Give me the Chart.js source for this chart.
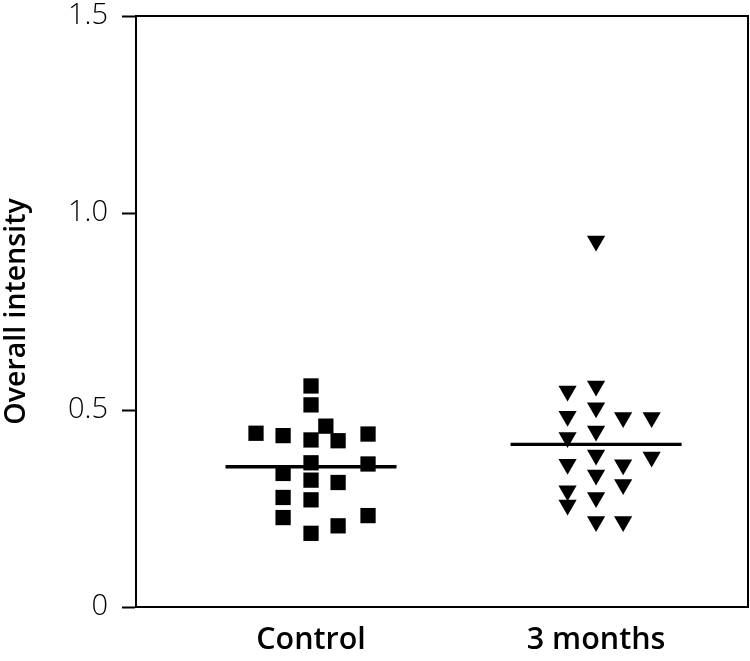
<!DOCTYPE html>
<html>
<head>
<meta charset="utf-8">
<script src="https://cdn.jsdelivr.net/npm/chart.js@4/dist/chart.umd.min.js"></script>
<style>
html,body{margin:0;padding:0;background:#fff;}
#wrap{width:750px;height:661px;position:relative;}
</style>
</head>
<body>
<div id="wrap"><canvas id="c" width="750" height="661"></canvas></div>
<script>
// ---- data ----
const categories = ['Control', '3 months'];
const yTicks = [0, 0.5, 1.0, 1.5];
const controlValues  = [0.561, 0.513, 0.424, 0.366, 0.322, 0.272, 0.187,
                        0.435, 0.339, 0.278, 0.227,
                        0.441,
                        0.459,
                        0.422, 0.316, 0.206,
                        0.439, 0.363, 0.232];
const controlJitter  = [0, 0, 0, 0, 0, 0, 0,
                        -0.098, -0.098, -0.098, -0.098,
                        -0.193,
                        0.052,
                        0.095, 0.095, 0.095,
                        0.2, 0.2, 0.2];
const monthsValues   = [0.929, 0.561, 0.506, 0.447, 0.386, 0.335, 0.278, 0.217,
                        0.548, 0.484, 0.430, 0.362, 0.295, 0.259,
                        0.481, 0.361, 0.311, 0.217,
                        0.481, 0.381];
const monthsJitter   = [0, 0, 0, 0, 0, 0, 0, 0,
                        -0.1, -0.1, -0.1, -0.1, -0.1, -0.1,
                        0.095, 0.095, 0.095, 0.095,
                        0.195, 0.195];
const means = [0.356, 0.413];
const meanHalfWidth = 0.3;

const pts = (vals, jit, g) => vals.map((v, i) => ({x: g + jit[i], y: v}));
const meanLine = (g) => [{x: g - meanHalfWidth, y: means[g - 1]}, {x: g + meanHalfWidth, y: means[g - 1]}];

const FONT = "'Open Sans', 'DejaVu Sans', sans-serif";

new Chart(document.getElementById('c'), {
  type: 'scatter',
  data: {
    datasets: [
      {label: categories[0], data: pts(controlValues, controlJitter, 1),
       pointStyle: 'rect', pointRadius: 10.8, backgroundColor: '#000', borderColor: '#000', borderWidth: 0},
      {label: categories[1], data: pts(monthsValues, monthsJitter, 2),
       pointStyle: 'triangle', rotation: 180, pointRadius: 10.5, backgroundColor: '#000', borderColor: '#000', borderWidth: 0},
      {type: 'line', data: meanLine(1), borderColor: '#000', borderWidth: 3.3, pointRadius: 0, fill: false},
      {type: 'line', data: meanLine(2), borderColor: '#000', borderWidth: 3.3, pointRadius: 0, fill: false}
    ]
  },
  options: {
    responsive: false,
    animation: false,
    layout: {autoPadding: false, padding: {top: 0, right: 2, left: 0, bottom: 0}},
    plugins: {legend: {display: false}, tooltip: {enabled: false}},
    scales: {
      x: {
        type: 'linear',
        min: 0.386, max: 2.533,
        afterBuildTicks: (s) => { s.ticks = [{value: 1}, {value: 2}]; },
        afterFit: (s) => { s.height = 54; s.paddingLeft = 0; s.paddingRight = 0; },
        ticks: {
          callback: (v) => categories[Math.round(v) - 1] || '',
          color: '#000',
          font: {family: FONT, size: 30.5, weight: '600'},
          padding: 15,
          maxRotation: 0, autoSkip: false
        },
        grid: {display: false, drawTicks: false},
        border: {display: true, color: '#000', width: 2}
      },
      x2: {
        type: 'linear',
        position: 'top',
        min: 0.386, max: 2.533,
        afterFit: (s) => { s.height = 0; s.paddingLeft = 0; s.paddingRight = 0; },
        ticks: {display: false},
        grid: {display: false},
        border: {display: true, color: '#000', width: 2}
      },
      y: {
        min: 0, max: 1.5,
        afterBuildTicks: (s) => { s.ticks = yTicks.map(v => ({value: v})); },
        afterFit: (s) => { s.width = 136; s.paddingTop = 16; s.paddingBottom = 0; },
        ticks: {
          callback: (v) => v === 0 ? '0' : v.toFixed(1),
          color: '#000',
          font: {family: FONT, size: 29, weight: '300'},
          padding: 14
        },
        grid: {drawOnChartArea: false, drawTicks: true, tickLength: 14, tickColor: '#000', tickWidth: 2},
        border: {display: true, color: '#000', width: 2},
        title: {display: true, text: 'Overall intensity', color: '#000',
                font: {family: FONT, size: 28.5, weight: '600'}, padding: {top: 0, bottom: 4}}
      },
      y2: {
        position: 'right',
        min: 0, max: 1.5,
        afterFit: (s) => { s.width = 0; s.paddingTop = 0; s.paddingBottom = 0; },
        ticks: {display: false},
        grid: {display: false},
        border: {display: true, color: '#000', width: 2}
      }
    }
  }
});
</script>
</body>
</html>
